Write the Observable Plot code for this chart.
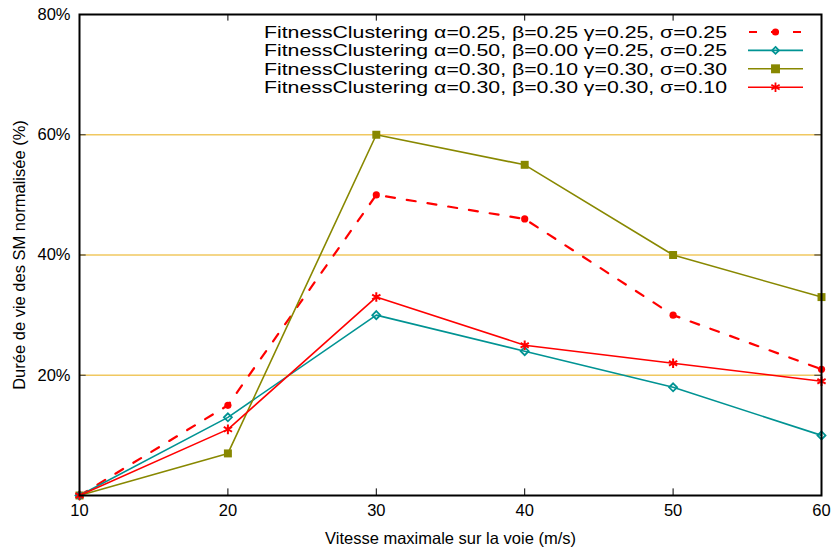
<!DOCTYPE html>
<html>
<head>
<meta charset="utf-8">
<script src="https://cdn.jsdelivr.net/npm/d3@7"></script>
<script src="https://cdn.jsdelivr.net/npm/@observablehq/plot@0.6"></script>
<style>
  body { margin: 0; background: #fff; font-family: "Liberation Sans", Arial, sans-serif; }
  #wrap { position: relative; width: 833px; height: 550px; }
  #legend { position: absolute; left: 0; top: 0; pointer-events: none; }
</style>
</head>
<body>
<div id="wrap"></div>
<script>
const speeds = [10, 20, 30, 40, 50, 60];
const seriesNames = [
  "FitnessClustering α=0.25, β=0.25 γ=0.25, σ=0.25",
  "FitnessClustering α=0.50, β=0.00 γ=0.25, σ=0.25",
  "FitnessClustering α=0.30, β=0.10 γ=0.30, σ=0.30",
  "FitnessClustering α=0.30, β=0.30 γ=0.30, σ=0.10"
];
const s1 = [0, 15, 50, 46, 30, 21];
const s2 = [0, 13, 30, 24, 18, 10];
const s3 = [0, 7, 60, 55, 40, 33];
const s4 = [0, 11, 33, 25, 22, 19];
const xTicks = [10, 20, 30, 40, 50, 60];
const yTicks = [20, 40, 60, 80];
const yTickLabels = ["20%", "40%", "60%", "80%"];
const gridLevels = [20, 40, 60];

const colors = ["#ff0000", "#009393", "#888800", "#ff0000"];
const dashes = ["9,12", null, null, null];
const allSeries = [s1, s2, s3, s4];

const rows = [];
allSeries.forEach((vals, k) => vals.forEach((v, i) => rows.push({series: k, x: speeds[i], y: v})));

const marks = [
  Plot.ruleY(gridLevels, {stroke: "#f0c860", strokeWidth: 1.6}),
];
allSeries.forEach((vals, k) => {
  const d = rows.filter(r => r.series === k);
  marks.push(Plot.line(d, {x: "x", y: "y", stroke: colors[k], strokeWidth: k === 0 ? 2.2 : 1.6, strokeDasharray: dashes[k]}));
});
marks.push(Plot.dot(rows.filter(r => r.series === 2), {x: "x", y: "y", symbol: "square", r: 4.5, fill: colors[2], stroke: "none"}));
marks.push(Plot.dot(rows.filter(r => r.series === 0), {x: "x", y: "y", symbol: "circle", r: 3.6, fill: colors[0], stroke: "none"}));
marks.push(Plot.dot(rows.filter(r => r.series === 1), {x: "x", y: "y", symbol: "diamond2", r: 3.6, fill: "none", stroke: colors[1], strokeWidth: 1.8}));
marks.push(Plot.dot(rows.filter(r => r.series === 3), {x: "x", y: "y", symbol: "asterisk", r: 4.5, fill: "none", stroke: colors[3], strokeWidth: 2}));
marks.push(Plot.ruleX(xTicks.slice(1, -1), {y1: 0, y2: 1.1, stroke: "#000", strokeWidth: 1}));
marks.push(Plot.ruleX(xTicks.slice(1, -1), {y1: 78.9, y2: 80, stroke: "#000", strokeWidth: 1}));
marks.push(Plot.ruleY(gridLevels, {x1: 10, x2: 10.45, stroke: "#333", strokeWidth: 1}));
marks.push(Plot.ruleY(gridLevels, {x1: 59.55, x2: 60, stroke: "#333", strokeWidth: 1}));
marks.push(Plot.frame({stroke: "#000", strokeWidth: 2}));

const chart = Plot.plot({
  width: 833,
  height: 550,
  marginLeft: 79,
  marginRight: 12,
  marginTop: 14,
  marginBottom: 55,
  style: {fontFamily: "'Liberation Sans', Arial, sans-serif", fontSize: "16.5px", color: "#000", background: "#fff", overflow: "visible"},
  x: {domain: [10, 60], ticks: xTicks, tickSize: 0, tickPadding: 9, label: "Vitesse maximale sur la voie (m/s)", labelAnchor: "center", labelOffset: 48, labelArrow: "none"},
  y: {domain: [0, 80], ticks: yTicks, tickFormat: (d) => yTickLabels[yTicks.indexOf(d)], tickSize: 0, tickPadding: 9, label: "Durée de vie des SM normalisée (%)", labelAnchor: "center", labelOffset: 66, labelArrow: "none"},
  marks
});
const wrap = document.getElementById("wrap");
wrap.appendChild(chart);

// legend drawn as an overlay SVG (layout constants only)
const lg = d3.select(wrap).append("svg").attr("id", "legend").attr("width", 833).attr("height", 120);
const textRight = 727, lineX0 = 748, lineX1 = 803, row0 = 32, rowStep = 18.4, textWidth = 463;
seriesNames.forEach((name, k) => {
  const cy = row0 + k * rowStep;
  lg.append("text").attr("x", textRight).attr("y", cy).attr("dy", "0.36em")
    .attr("text-anchor", "end")
    .attr("font-family", "'Liberation Sans', Arial, sans-serif").attr("font-size", 15.9)
    .attr("textLength", textWidth).attr("lengthAdjust", "spacingAndGlyphs")
    .text(name);
  lg.append("line").attr("x1", lineX0).attr("x2", lineX1).attr("y1", cy).attr("y2", cy)
    .attr("stroke", colors[k]).attr("stroke-width", k === 0 ? 2.2 : 1.6)
    .attr("stroke-dasharray", k === 0 ? "8,14" : null).attr("stroke-dashoffset", k === 0 ? -1 : 0);
  const sym = d3.symbol().type([d3.symbolCircle, d3.symbolDiamond2, d3.symbolSquare, d3.symbolAsterisk][k])
    .size([40, 30, 80, 64][k]);
  lg.append("path").attr("d", sym()).attr("transform", `translate(${(lineX0 + lineX1) / 2},${cy})`)
    .attr("fill", k === 0 || k === 2 ? colors[k] : "none")
    .attr("stroke", k === 0 || k === 2 ? "none" : colors[k]).attr("stroke-width", 1.8);
});
</script>
</body>
</html>
